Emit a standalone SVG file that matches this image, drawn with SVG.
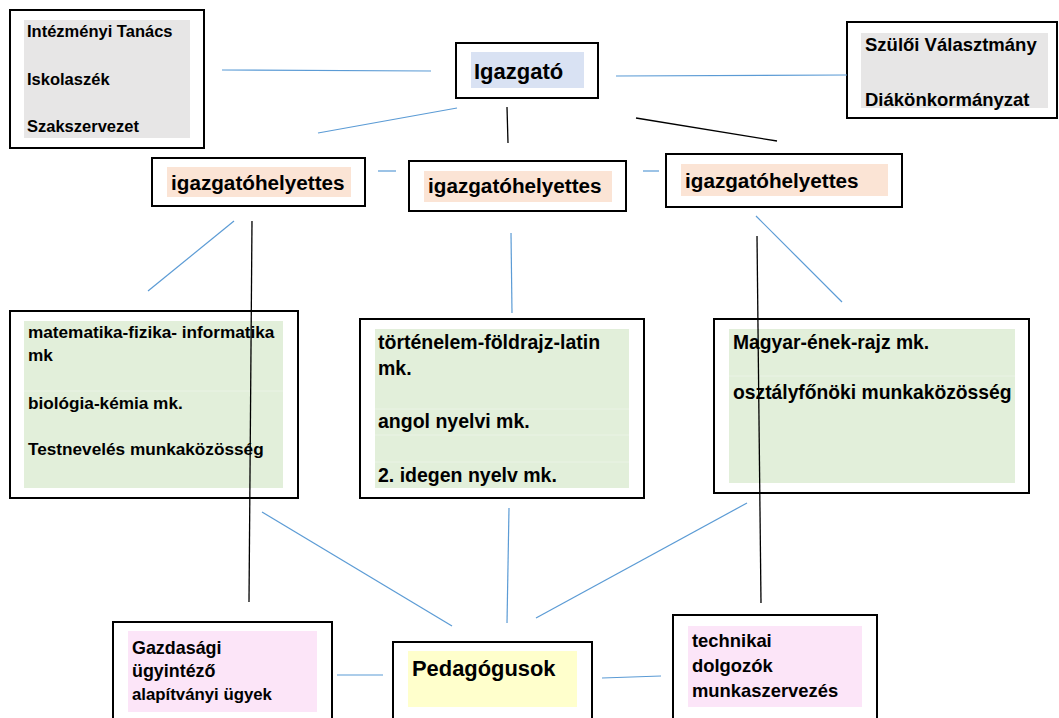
<svg xmlns="http://www.w3.org/2000/svg" width="1059" height="718" viewBox="0 0 1059 718">
<style>
.box{fill:#ffffff;stroke:#000000;stroke-width:2}
.gray{fill:#e7e6e6}
.blue{fill:#d9e2f3}
.peach{fill:#fbe4d5}
.green{fill:#e2efda}
.pink{fill:#fce5f8}
.yellow{fill:#ffffcc}
.sep{stroke:#eaf3e5;stroke-width:1}
text{font-family:"Liberation Sans",Arial,sans-serif;font-weight:bold;fill:#000000}
.cb{stroke:#5b9bd5;stroke-width:1.2;fill:none}
.ck{stroke:#000000;stroke-width:1.3;fill:none}
</style>
<rect width="1059" height="718" fill="#ffffff"/>
<g id="intezmenyi">
<rect class="box" x="10" y="10" width="194" height="138"/>
<rect class="gray" x="24" y="20" width="166" height="118"/>
<text x="27" y="37" font-size="16.5">Intézményi Tanács</text>
<text x="27" y="85" font-size="16.5">Iskolaszék</text>
<text x="27" y="132" font-size="16.5">Szakszervezet</text>
</g>
<g id="igazgato">
<rect class="box" x="456" y="43" width="142" height="55"/>
<rect class="blue" x="471" y="52" width="113" height="36"/>
<text x="474" y="79" font-size="22">Igazgató</text>
</g>
<g id="szuloi">
<rect class="box" x="847" y="22" width="210" height="96"/>
<rect class="gray" x="861" y="33" width="187" height="75"/>
<text x="865" y="51" font-size="18.5">Szülői Választmány</text>
<text x="865" y="106" font-size="18.5">Diákönkormányzat</text>
</g>
<g id="igh1">
<rect class="box" x="152" y="158" width="213" height="48"/>
<rect class="peach" x="167" y="167" width="184" height="30"/>
<text x="171" y="190" font-size="20.7">igazgatóhelyettes</text>
</g>
<g id="igh2">
<rect class="box" x="409" y="161" width="217" height="50"/>
<rect class="peach" x="424" y="171" width="188" height="31"/>
<text x="428" y="193" font-size="20.7">igazgatóhelyettes</text>
</g>
<g id="igh3">
<rect class="box" x="666" y="154" width="236" height="53"/>
<rect class="peach" x="681" y="164" width="207" height="32"/>
<text x="685" y="188" font-size="20.7">igazgatóhelyettes</text>
</g>
<g id="mk-left">
<rect class="box" x="10" y="311" width="288" height="187"/>
<rect class="green" x="24" y="321" width="259" height="167"/>
<line class="sep" x1="24" y1="391" x2="283" y2="391"/>
<text x="28" y="338" font-size="17.2">matematika-fizika- informatika</text>
<text x="28" y="361" font-size="17.2">mk</text>
<text x="28" y="409" font-size="17.2">biológia-kémia mk.</text>
<text x="28" y="455" font-size="17.2">Testnevelés munkaközösség</text>
</g>
<g id="mk-middle">
<rect class="box" x="360" y="319" width="284" height="179"/>
<rect class="green" x="375" y="329" width="254" height="159"/>
<line class="sep" x1="375" y1="409" x2="629" y2="409"/>
<line class="sep" x1="375" y1="435" x2="629" y2="435"/>
<line class="sep" x1="375" y1="462" x2="629" y2="462"/>
<text x="378" y="349" font-size="19.5">történelem-földrajz-latin</text>
<text x="378" y="375" font-size="19.5">mk.</text>
<text x="378" y="428" font-size="19.5">angol nyelvi mk.</text>
<text x="378" y="482" font-size="19.5">2. idegen nyelv mk.</text>
</g>
<g id="mk-right">
<rect class="box" x="714" y="319" width="315" height="174"/>
<rect class="green" x="729" y="329" width="286" height="154"/>
<line class="sep" x1="729" y1="376" x2="1015" y2="376"/>
<text x="733" y="349" font-size="19.3">Magyar-ének-rajz mk.</text>
<text x="733" y="399" font-size="19.3">osztályfőnöki munkaközösség</text>
</g>
<g id="gazdasagi">
<rect class="box" x="113" y="622" width="219" height="110"/>
<rect class="pink" x="128" y="631" width="189" height="81"/>
<text x="132" y="654" font-size="17.9">Gazdasági</text>
<text x="132" y="677" font-size="17.9">ügyintéző</text>
<text x="132" y="700" font-size="16.8">alapítványi ügyek</text>
</g>
<g id="pedagogusok">
<rect class="box" x="393" y="642" width="199" height="90"/>
<rect class="yellow" x="408" y="651" width="169" height="56"/>
<text x="412" y="676" font-size="21.9">Pedagógusok</text>
</g>
<g id="technikai">
<rect class="box" x="673" y="615" width="204" height="117"/>
<rect class="pink" x="688" y="626" width="174" height="81"/>
<text x="692" y="647" font-size="18.4">technikai</text>
<text x="692" y="672" font-size="18.4">dolgozók</text>
<text x="692" y="697" font-size="18.4">munkaszervezés</text>
</g>
<g id="connectors">
<line class="cb" x1="222" y1="70" x2="431" y2="71"/>
<line class="cb" x1="616" y1="76" x2="847" y2="75"/>
<line class="cb" x1="318" y1="133" x2="457" y2="108"/>
<line class="ck" x1="507" y1="107" x2="508" y2="143"/>
<line class="ck" x1="636" y1="118" x2="777" y2="141"/>
<line class="cb" x1="378" y1="171" x2="396" y2="171"/>
<line class="cb" x1="643" y1="171" x2="659" y2="171"/>
<line class="cb" x1="234" y1="221" x2="148" y2="291"/>
<line class="ck" x1="252" y1="221" x2="249" y2="602"/>
<line class="cb" x1="511" y1="233" x2="512" y2="313"/>
<line class="cb" x1="756" y1="216" x2="842" y2="302"/>
<line class="ck" x1="757" y1="236" x2="761" y2="603"/>
<line class="cb" x1="262" y1="512" x2="452" y2="626"/>
<line class="cb" x1="509" y1="508" x2="507" y2="623"/>
<line class="cb" x1="747" y1="503" x2="536" y2="618"/>
<line class="cb" x1="337" y1="675" x2="383" y2="675"/>
<line class="cb" x1="602" y1="678" x2="661" y2="676"/>
</g>
</svg>
